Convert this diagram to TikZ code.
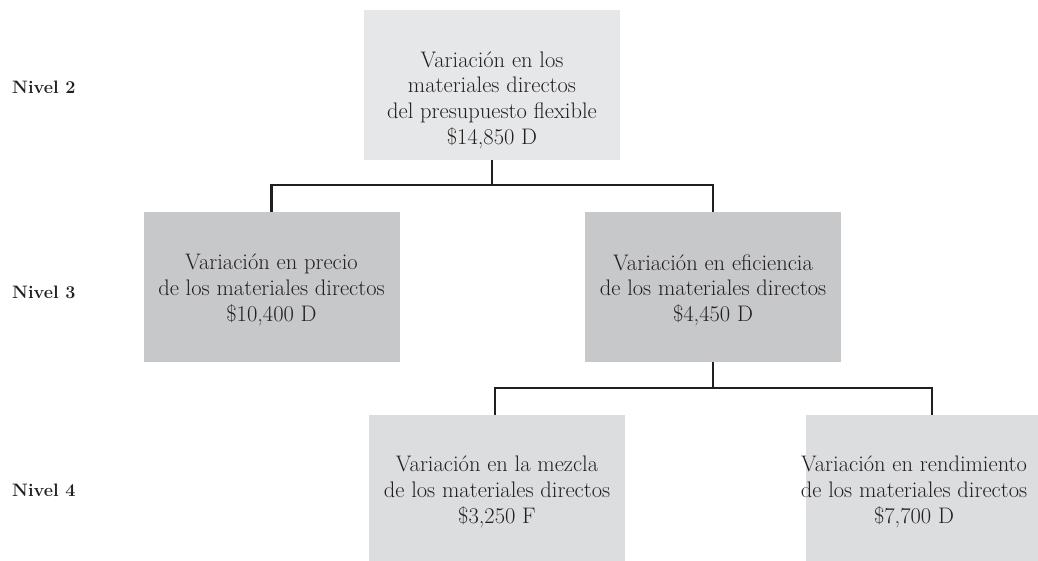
\documentclass[tikz,border=0pt]{standalone}
\usepackage{fontspec}
\definecolor{boxtop}{HTML}{E6E7E8}
\definecolor{boxmid}{HTML}{C7C8CA}
\definecolor{boxlow}{HTML}{DCDDDF}
\definecolor{ink}{HTML}{231F20}
\begin{document}
\begin{tikzpicture}[x=1pt,y=-1pt,
  vbox/.style={minimum width=256pt,minimum height=150pt,inner sep=0pt},
  vtxt/.style={inner sep=0pt,align=center,text=ink,font=\fontsize{22.5}{25.7}\selectfont},
  lvl/.style={anchor=west,inner sep=0pt,text=ink,font=\fontsize{18}{22}\selectfont\bfseries},
  conn/.style={draw=ink,line width=2.4pt}]
\useasboundingbox (0,0) rectangle (1038,560);
\clip (0,0) rectangle (1038,560);
\fill[white] (0,0) rectangle (1038,560);
\node[vbox,fill=boxtop] (top) at (492,84.5) {};
\node[vtxt] (toptxt) at (492,100) {Variación en los\\materiales directos\\del presupuesto flexible\\\$14,850 D};
\node[vbox,fill=boxmid] (pre) at (271.5,287) {};
\node[vtxt] (pretxt) at (271.5,290) {Variación en precio\\de los materiales directos\\\$10,400 D};
\node[vbox,fill=boxmid] (efi) at (713,287) {};
\node[vtxt] (efitxt) at (713,290) {Variación en eficiencia\\de los materiales directos\\\$4,450 D};
\node[vbox,fill=boxlow] (mez) at (497,490) {};
\node[vtxt] (meztxt) at (497,492) {Variación en la mezcla\\de los materiales directos\\\$3,250 F};
\node[vbox,fill=boxlow] (ren) at (934,490) {};
\node[vtxt] (rentxt) at (914,492) {Variación en rendimiento\\de los materiales directos\\\$7,700 D};
\node[lvl] (n2) at (12,87) {Nivel 2};
\node[lvl] (n3) at (12,292) {Nivel 3};
\node[lvl] (n4) at (12,490) {Nivel 4};
\coordinate (j1) at (492,185);
\coordinate (j2) at (713,388);
\draw[conn] (top.south) -- (j1);
\draw[conn] (pre.north) |- (j1) -| (efi.north);
\draw[conn] (efi.south) -- (j2);
\draw[conn] ([xshift=-2pt]mez.north) |- (j2) -| ([xshift=-2pt]ren.north);
\end{tikzpicture}
\end{document}
